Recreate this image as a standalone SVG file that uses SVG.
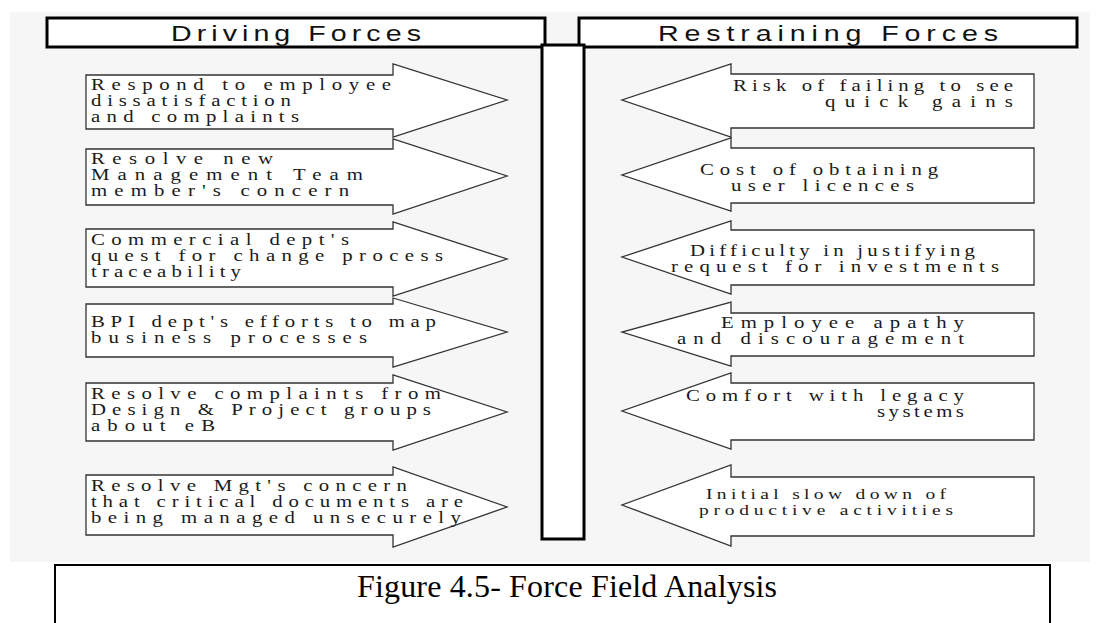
<svg xmlns="http://www.w3.org/2000/svg" width="1096" height="623" viewBox="0 0 1096 623">
<style>
.bg{fill:#f6f6f6}
.hdr{fill:#fff;stroke:#000;stroke-width:3}
.hdrt{font-family:"Liberation Sans",Arial,sans-serif;font-size:22px;fill:#111}
.arrow{fill:#fff;stroke:#333;stroke-width:1.3;stroke-linejoin:miter}
.t{font-family:"Liberation Serif","Times New Roman",serif;font-size:16px;fill:#1a1a1a}
.ts{font-family:"Liberation Serif","Times New Roman",serif;font-size:15px;fill:#1a1a1a}
.bar{fill:#fff;stroke:#000;stroke-width:3}
.cap{fill:none;stroke:#000;stroke-width:2}
.capt{font-family:"Liberation Serif","Times New Roman",serif;font-size:32px;fill:#000}
</style>
<rect x="0" y="0" width="1096" height="623" fill="#fff"/>
<rect class="bg" x="10" y="12" width="1080" height="550"/>

<g id="header-driving">
<rect class="hdr" x="47" y="18" width="498" height="29"/>
<text class="hdrt" transform="scale(1.3,1)" x="131.5" y="41" textLength="192.3" lengthAdjust="spacing">Driving Forces</text>
</g>
<g id="header-restraining">
<rect class="hdr" x="579" y="18" width="498" height="29"/>
<text class="hdrt" transform="scale(1.3,1)" x="506.2" y="41" textLength="261.5" lengthAdjust="spacing">Restraining Forces</text>
</g>
<g id="center-bar">
<rect class="bar" x="542" y="45" width="42" height="494"/>
</g>

<g id="driving-1">
<polygon class="arrow" points="86,75 393,75 393,64 507,100 393,137 393,129 86,129"/>
<g transform="scale(1.3,1)">
<text class="t" x="70" y="90" textLength="230.8" lengthAdjust="spacing">Respond to employee</text>
<text class="t" x="70" y="106" textLength="153.8" lengthAdjust="spacing">dissatisfaction</text>
<text class="t" x="70" y="122" textLength="160" lengthAdjust="spacing">and complaints</text>
</g>
</g>
<g id="driving-2">
<polygon class="arrow" points="86,149 393,149 393,139 507,176 393,214 393,205 86,205"/>
<g transform="scale(1.3,1)">
<text class="t" x="70" y="164" textLength="140" lengthAdjust="spacing">Resolve new</text>
<text class="t" x="70" y="180" textLength="209.2" lengthAdjust="spacing">Management Team</text>
<text class="t" x="70" y="196" textLength="198.5" lengthAdjust="spacing">member's concern</text>
</g>
</g>
<g id="driving-3">
<polygon class="arrow" points="86,229 393,229 393,222 507,259 393,296 393,287 86,287"/>
<g transform="scale(1.3,1)">
<text class="t" x="70" y="245" textLength="198.5" lengthAdjust="spacing">Commercial dept's</text>
<text class="t" x="70" y="261" textLength="270.8" lengthAdjust="spacing">quest for change process</text>
<text class="t" x="70" y="277" textLength="115.4" lengthAdjust="spacing">traceability</text>
</g>
</g>
<g id="driving-4">
<polygon class="arrow" points="86,304 393,304 393,298 507,332 393,367 393,357 86,357"/>
<g transform="scale(1.3,1)">
<text class="t" x="70" y="327" textLength="265.4" lengthAdjust="spacing">BPI dept's efforts to map</text>
<text class="t" x="70" y="343" textLength="212.3" lengthAdjust="spacing">business processes</text>
</g>
</g>
<g id="driving-5">
<polygon class="arrow" points="86,383 393,383 393,375 507,412 393,450 393,441 86,441"/>
<g transform="scale(1.3,1)">
<text class="t" x="70" y="399" textLength="269.2" lengthAdjust="spacing">Resolve complaints from</text>
<text class="t" x="70" y="415" textLength="261.5" lengthAdjust="spacing">Design &amp; Project groups</text>
<text class="t" x="70" y="431" textLength="95.4" lengthAdjust="spacing">about eB</text>
</g>
</g>
<g id="driving-6">
<polygon class="arrow" points="86,475 393,475 393,467 507,507 393,547 393,535 86,535"/>
<g transform="scale(1.3,1)">
<text class="t" x="70" y="491" textLength="243.1" lengthAdjust="spacing">Resolve Mgt's concern</text>
<text class="t" x="70" y="507" textLength="286.2" lengthAdjust="spacing">that critical documents are</text>
<text class="t" x="70" y="523" textLength="284.6" lengthAdjust="spacing">being managed unsecurely</text>
</g>
</g>

<g id="restraining-1">
<polygon class="arrow" points="1034,74 731,74 731,64 622,100 731,137 731,128 1034,128"/>
<g transform="scale(1.3,1)">
<text class="t" x="563.8" y="91" textLength="215.4" lengthAdjust="spacing">Risk of failing to see</text>
<text class="t" x="634.6" y="107" textLength="144.6" lengthAdjust="spacing">quick gains</text>
</g>
</g>
<g id="restraining-2">
<polygon class="arrow" points="1034,148 731,148 731,138 622,175 731,211 731,203 1034,203"/>
<g transform="scale(1.3,1)">
<text class="t" x="538.5" y="175" textLength="183.1" lengthAdjust="spacing">Cost of obtaining</text>
<text class="t" x="562.3" y="191" textLength="140.8" lengthAdjust="spacing">user licences</text>
</g>
</g>
<g id="restraining-3">
<polygon class="arrow" points="1034,230 731,230 731,221 622,257 731,294 731,285 1034,285"/>
<g transform="scale(1.3,1)">
<text class="t" x="530.8" y="256" textLength="219.2" lengthAdjust="spacing">Difficulty in justifying</text>
<text class="t" x="516.2" y="272" textLength="252.3" lengthAdjust="spacing">request for investments</text>
</g>
</g>
<g id="restraining-4">
<polygon class="arrow" points="1034,313 731,313 731,302 622,332 731,366 731,356 1034,356"/>
<g transform="scale(1.3,1)">
<text class="t" x="554.6" y="328" textLength="186.9" lengthAdjust="spacing">Employee apathy</text>
<text class="t" x="520.8" y="344" textLength="220.8" lengthAdjust="spacing">and discouragement</text>
</g>
</g>
<g id="restraining-5">
<polygon class="arrow" points="1034,383 731,383 731,373 622,411 731,449 731,440 1034,440"/>
<g transform="scale(1.3,1)">
<text class="t" x="527.7" y="401" textLength="213.8" lengthAdjust="spacing">Comfort with legacy</text>
<text class="t" x="674.6" y="417" textLength="66.9" lengthAdjust="spacing">systems</text>
</g>
</g>
<g id="restraining-6">
<polygon class="arrow" points="1034,477 731,477 731,465 622,505 731,546 731,536 1034,536"/>
<g transform="scale(1.3,1)">
<text class="ts" x="543.1" y="499" textLength="184.6" lengthAdjust="spacing">Initial slow down of</text>
<text class="ts" x="537.7" y="515" textLength="195.4" lengthAdjust="spacing">productive activities</text>
</g>
</g>

<g id="caption">
<path class="cap" d="M55,623 V565 H1050 V623"/>
<text class="capt" x="357" y="597" textLength="420" lengthAdjust="spacing">Figure 4.5- Force Field Analysis</text>
</g>
</svg>
